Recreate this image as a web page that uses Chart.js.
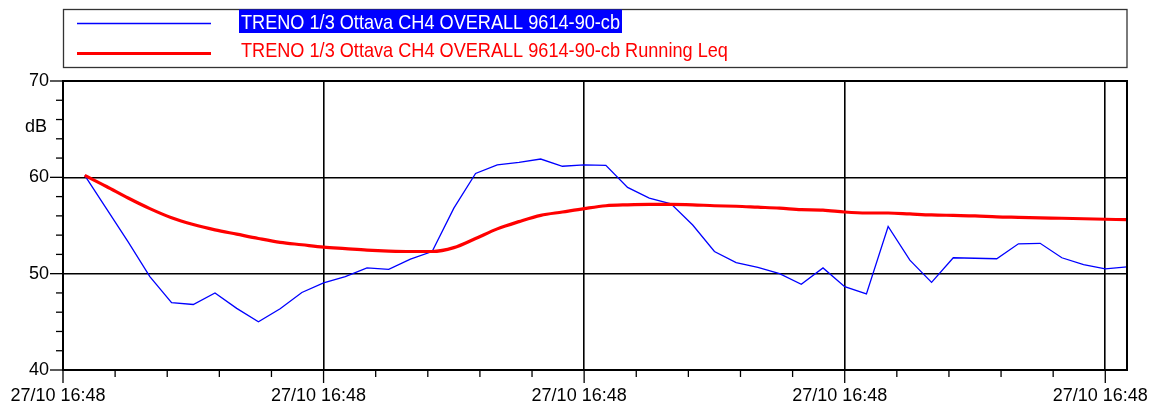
<!DOCTYPE html>
<html lang="it">
<head>
    <meta charset="UTF-8">
    <title>TRENO 1/3 Ottava CH4</title>
    <style>
        body {
            margin: 0;
            padding: 0;
            background-color: #FFFFFF;
        }

        #wrap {
            width: 1150px;
            height: 407px;
        }
    </style>
</head>
<body>
    <div id="wrap"><canvas id="levelChart"></canvas></div>

    <script src="https://cdn.jsdelivr.net/npm/chart.js"></script>
    <script>
        // Sample index (one reading per step), tick positions and labels
        const samples = [1, 2, 3, 4, 5, 6, 7, 8, 9, 10, 11, 12, 13, 14, 15, 16, 17, 18, 19, 20,
            21, 22, 23, 24, 25, 26, 27, 28, 29, 30, 31, 32, 33, 34, 35, 36, 37, 38, 39, 40,
            41, 42, 43, 44, 45, 46, 47, 48, 49];
        const xMajorTicks = [0, 12, 24, 36, 48];
        const xTickLabels = ['27/10 16:48', '27/10 16:48', '27/10 16:48', '27/10 16:48', '27/10 16:48'];
        const xMinorStep = 2.4;
        const yTicks = [40, 42, 44, 46, 48, 50, 52, 54, 56, 58, 60, 62, 64, 66, 68, 70];
        const yTickLabels = [40, 50, 60, 70];

        const seriesName = 'TRENO 1/3 Ottava CH4 OVERALL 9614-90-cb';
        const leqName = 'TRENO 1/3 Ottava CH4 OVERALL 9614-90-cb Running Leq';

        // Overall level, dB
        const overall = [60.2, 56.75, 53.3, 49.7, 47.0, 46.8, 48.0, 46.4, 45.0, 46.35,
            48.05, 49.05, 49.7, 50.6, 50.45, 51.5, 52.3, 56.8, 60.4, 61.3,
            61.55, 61.9, 61.15, 61.3, 61.25, 58.95, 57.85, 57.25, 55.05, 52.3,
            51.15, 50.65, 50.0, 48.9, 50.6, 48.65, 47.9, 54.9, 51.4, 49.1,
            51.65, 51.6, 51.55, 53.1, 53.15, 51.65, 50.95, 50.5, 50.7];

        // Running Leq, dB
        const runningLeq = [60.2, 59.05, 57.85, 56.75, 55.8, 55.1, 54.55, 54.1, 53.65, 53.25,
            53.0, 52.75, 52.6, 52.45, 52.35, 52.3, 52.3, 52.7, 53.65, 54.65,
            55.4, 56.05, 56.4, 56.75, 57.05, 57.15, 57.2, 57.2, 57.15, 57.05,
            57.0, 56.9, 56.8, 56.65, 56.6, 56.4, 56.3, 56.3, 56.2, 56.1,
            56.05, 56.0, 55.9, 55.85, 55.8, 55.75, 55.7, 55.65, 55.6];

        const FONT = '"Liberation Sans", Arial, sans-serif';
        Chart.defaults.font.family = FONT;
        Chart.defaults.font.size = 18;
        Chart.defaults.color = '#000';

        const isMultiple = (v, step) => Math.abs(v / step - Math.round(v / step)) < 1e-6;

        // Minor x ticks every 2.4 samples across the axis
        const xMinorTicks = [];
        for (let k = 0; k * xMinorStep <= 48 + 1e-6; k++) {
            xMinorTicks.push(Math.round(k * xMinorStep * 100) / 100);
        }

        const toPoints = values => values.map((v, i) => ({ x: samples[i], y: v }));

        // Frame, tick marks, unit label and the boxed legend
        const framePlugin = {
            id: 'frame',
            afterDraw(chart) {
                const { ctx, chartArea: a, scales: { x, y } } = chart;
                ctx.save();

                ctx.strokeStyle = '#000';
                ctx.lineWidth = 2;
                ctx.strokeRect(a.left, a.top, a.right - a.left, a.bottom - a.top);

                ctx.lineWidth = 1.3;
                x.ticks.forEach(t => {
                    const px = x.getPixelForValue(t.value);
                    const len = isMultiple(t.value, 12) ? 13 : 7;
                    ctx.beginPath();
                    ctx.moveTo(px, a.bottom);
                    ctx.lineTo(px, a.bottom + len);
                    ctx.stroke();
                });
                y.ticks.forEach(t => {
                    const py = y.getPixelForValue(t.value);
                    const len = isMultiple(t.value, 10) ? 13 : 7;
                    ctx.beginPath();
                    ctx.moveTo(a.left, py);
                    ctx.lineTo(a.left - len, py);
                    ctx.stroke();
                });

                ctx.fillStyle = '#000';
                ctx.font = '18px ' + FONT;
                ctx.textAlign = 'right';
                ctx.textBaseline = 'middle';
                ctx.fillText('dB', 47, y.getPixelForValue(65.2));

                // legend box
                ctx.strokeStyle = '#333';
                ctx.lineWidth = 1.3;
                ctx.strokeRect(63.5, 9.5, a.right - 63.5, 58);

                ctx.font = '21px ' + FONT;
                const squeeze = 379 / ctx.measureText(seriesName).width;
                const drawText = (text, x0, baseline, color) => {
                    ctx.save();
                    ctx.translate(x0, baseline);
                    ctx.scale(squeeze, 1);
                    ctx.fillStyle = color;
                    ctx.textAlign = 'left';
                    ctx.textBaseline = 'alphabetic';
                    ctx.fillText(text, 0, 0);
                    ctx.restore();
                };

                ctx.strokeStyle = '#0000FF';
                ctx.lineWidth = 1.6;
                ctx.beginPath();
                ctx.moveTo(77, 23.5);
                ctx.lineTo(211, 23.5);
                ctx.stroke();
                ctx.fillStyle = '#0000FF';
                ctx.fillRect(239, 9.5, 383, 23.5);
                drawText(seriesName, 241, 28.5, '#FFFFFF');

                ctx.strokeStyle = '#FF0000';
                ctx.lineWidth = 3;
                ctx.beginPath();
                ctx.moveTo(77, 53.5);
                ctx.lineTo(211, 53.5);
                ctx.stroke();
                drawText(leqName, 241, 57, '#FF0000');

                ctx.restore();
            }
        };

        const chart = new Chart(document.getElementById('levelChart'), {
            type: 'line',
            data: {
                datasets: [
                    {
                        label: seriesName,
                        data: toPoints(overall),
                        borderColor: '#0000FF',
                        borderWidth: 1.3,
                        pointRadius: 0,
                        tension: 0,
                        order: 1
                    },
                    {
                        label: leqName,
                        data: toPoints(runningLeq),
                        borderColor: '#FF0000',
                        borderWidth: 3.2,
                        pointRadius: 0,
                        cubicInterpolationMode: 'monotone',
                        order: 0
                    }
                ]
            },
            options: {
                responsive: true,
                maintainAspectRatio: false,
                animation: false,
                layout: { padding: { top: 81, right: 23, left: 0, bottom: 0 } },
                plugins: {
                    legend: { display: false },
                    tooltip: { enabled: false }
                },
                scales: {
                    x: {
                        type: 'linear',
                        min: 0,
                        max: 49,
                        afterBuildTicks: s => { s.ticks = xMinorTicks.map(v => ({ value: v })); },
                        afterFit: s => { s.height = 37; s.paddingLeft = 0; s.paddingRight = 0; },
                        ticks: {
                            autoSkip: false,
                            maxRotation: 0,
                            minRotation: 0,
                            padding: 15,
                            callback: value => {
                                const k = xMajorTicks.findIndex(m => Math.abs(m - value) < 1e-6);
                                return k >= 0 ? xTickLabels[k] + '  ' : '';
                            }
                        },
                        grid: {
                            drawTicks: false,
                            lineWidth: 1.6,
                            color: c => (c.tick && isMultiple(c.tick.value, 12)) ? '#000' : 'rgba(0,0,0,0)'
                        },
                        border: { color: '#000', width: 2 }
                    },
                    y: {
                        min: 40,
                        max: 70,
                        afterBuildTicks: s => { s.ticks = yTicks.map(v => ({ value: v })); },
                        afterFit: s => { s.width = 63; },
                        ticks: {
                            autoSkip: false,
                            padding: 14,
                            callback: value => yTickLabels.includes(value) ? String(value) : ''
                        },
                        grid: {
                            drawTicks: false,
                            lineWidth: 1.6,
                            color: c => (c.tick && isMultiple(c.tick.value, 10)) ? '#000' : 'rgba(0,0,0,0)'
                        },
                        border: { color: '#000', width: 2 }
                    }
                }
            },
            plugins: [framePlugin]
        });
    </script>
</body>
</html>
